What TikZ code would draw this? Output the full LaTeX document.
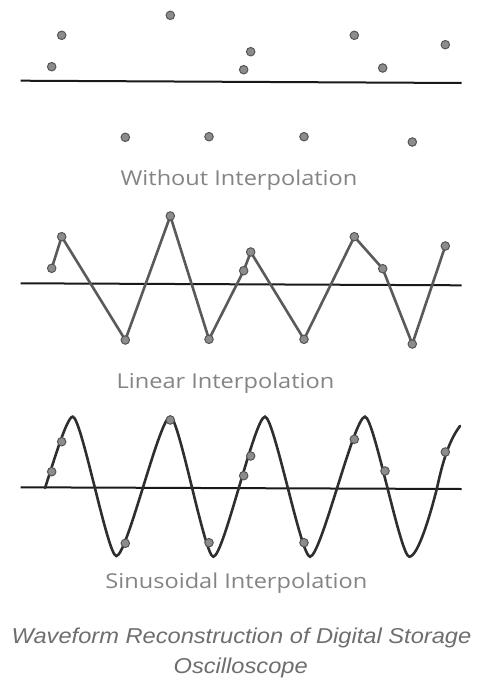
\documentclass[tikz,border=0pt]{standalone}
\usepackage{fontspec}
\setmainfont{Open Sans}
\newfontfamily\labfont[FakeStretch=1.15]{Open Sans}
\newfontfamily\capfont[FakeStretch=1.1]{Liberation Sans}
\definecolor{dotfill}{HTML}{8C8C8C}
\definecolor{dotline}{HTML}{555555}
\definecolor{linegray}{HTML}{5A5A5A}
\definecolor{labelgray}{HTML}{848484}
\definecolor{capgray}{HTML}{6E6E6E}
\definecolor{sinecol}{HTML}{2E2E2E}
\begin{document}
\begin{tikzpicture}[x=1pt,y=-1pt,
  sample/.style={circle,fill=dotfill,draw=dotline,line width=1pt,minimum size=8.5pt,inner sep=0pt},
  axisline/.style={line width=2pt,draw=black!90},
  linwave/.style={line width=2.6pt,draw=linegray,line join=round,line cap=round},
  sinwave/.style={line width=2.6pt,draw=sinecol,line cap=round},
  seclabel/.style={text=labelgray,anchor=base,inner sep=0pt,font=\labfont\fontsize{20.5}{24}\selectfont},
  captext/.style={text=capgray,anchor=base,inner sep=0pt,font=\capfont\itshape\fontsize{21.5}{25}\selectfont}]
\useasboundingbox[fill=white] (0,0) rectangle (478,682);

% ---------- Without interpolation ----------
\coordinate (ta1) at (20.7,80.7);
\coordinate (ta2) at (461.7,83);
\draw[axisline] (ta1) -- (ta2);
\foreach \n/\px/\py in {1/51.7/66.7, 2/61.7/35.3, 3/125.3/137.3, 4/170.3/15.3,
  5/209/136.7, 6/243.7/69.7, 7/250.7/51.7, 8/304/136.7, 9/354.3/35.3,
  10/382.7/68, 11/412.3/142, 12/445.3/44.7}
  \node[sample] (t\n) at (\px,\py) {};
\node[seclabel] (lab1) at (239,185) {Without Interpolation};

% ---------- Linear interpolation ----------
\coordinate (ma1) at (20.7,283.3);
\coordinate (ma2) at (461.7,285.3);
\draw[axisline] (ma1) -- (ma2);
\foreach \n/\px/\py in {1/51.7/268.3, 2/61.7/236.7, 3/125.3/340, 4/170.3/216,
  5/209/339.3, 6/243.7/270.7, 7/250.7/252, 8/304/339.3, 9/354.3/236.7,
  10/382.7/268.7, 11/412.3/344, 12/445.3/246}
  \coordinate (m\n) at (\px,\py);
\draw[linwave] (m1) -- (m2) -- (m3) -- (m4) -- (m5) -- (m6) -- (m7) -- (m8)
  -- (m9) -- (m10) -- (m11) -- (m12);
\foreach \n in {1,...,12}
  \node[sample] (dm\n) at (m\n) {};
\node[seclabel] (lab2) at (225.5,388) {Linear Interpolation};

% ---------- Sinusoidal interpolation ----------
\coordinate (sa1) at (20.7,487.3);
\coordinate (sa2) at (461.7,489);
\draw[axisline] (sa1) -- (sa2);
\coordinate (s0) at (45,488);
\coordinate (sA) at (72.7,416.7);
\coordinate (sB) at (116.3,556);
\coordinate (sC) at (170.3,416.7);
\coordinate (sD) at (213.3,556.7);
\coordinate (sE) at (265,416.7);
\coordinate (sF) at (310,556.7);
\coordinate (sG) at (365,416.7);
\coordinate (sH) at (409.3,556.7);
\coordinate (sX) at (437,488);
\coordinate (sZ) at (460,426);
\draw[sinwave] (s0) .. controls (53,464) and (66.7,416.7) .. (sA)
  .. controls (81.4,416.7) and (107.6,556) .. (sB)
  .. controls (127.1,556) and (159.5,416.7) .. (sC)
  .. controls (178.9,416.7) and (204.7,556.7) .. (sD)
  .. controls (223.6,556.7) and (254.7,416.7) .. (sE)
  .. controls (274,416.7) and (301,556.7) .. (sF)
  .. controls (321,556.7) and (354,416.7) .. (sG)
  .. controls (373.9,416.7) and (400.4,556.7) .. (sH)
  .. controls (418,556.7) and (430.5,514) .. (sX)
  .. controls (441,470) and (447,443) .. (sZ);
\foreach \n/\px/\py in {1/51.7/471.7, 2/61.7/441.7, 3/125.3/543.3, 4/170.3/420,
  5/209/542.7, 6/243.7/475.7, 7/250.7/456, 8/304/542.7, 9/354.3/439.3,
  10/385/471, 11/445.3/452}
  \node[sample] (b\n) at (\px,\py) {};
\node[seclabel] (lab3) at (236.4,588) {Sinusoidal Interpolation};

% ---------- Caption ----------
\node[captext] (cap1) at (241.5,643.3) {Waveform Reconstruction of Digital Storage};
\node[captext] (cap2) at (240.7,673.3) {Oscilloscope};
\end{tikzpicture}
\end{document}
